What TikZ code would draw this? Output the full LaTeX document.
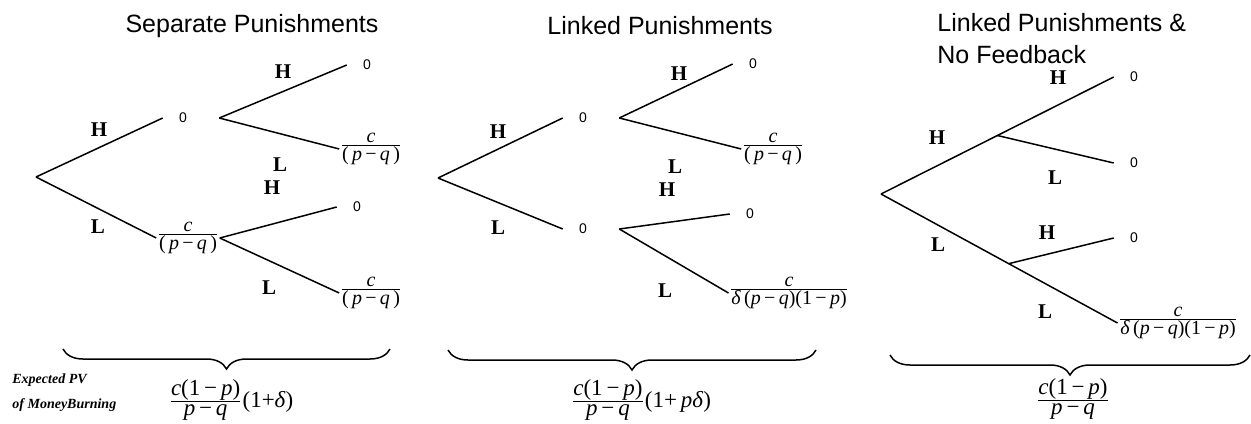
\documentclass[tikz,border=0pt]{standalone}
\usepackage{fontspec}
\setmainfont{Liberation Serif}
\setsansfont{Liberation Sans}
\usepackage{tikz}
\usetikzlibrary{calc,decorations.pathreplacing}
\newcommand{\fracPQ}{$\frac{\mbox{\textit{c}}}{\mbox{(\,\textit{p}\,−\,\textit{q}\,)}}$}
\newcommand{\fracLong}{$\frac{\mbox{\textit{c}}}{\mbox{\textit{δ}\,(\textit{p}\,−\,\textit{q})(1\,−\,\textit{p})}}$}
\newcommand{\fracSum}{$\frac{\mbox{\textit{c}(1\,−\,\textit{p})}}{\mbox{\textit{p}\,−\,\textit{q}}}$}

\begin{document}
\begin{tikzpicture}[
  x=0.5pt, y=-0.5pt,
  title/.style={font=\sffamily\fontsize{12.5}{16}\selectfont, align=left, inner sep=0pt},
  lbl/.style={font=\bfseries\fontsize{10.5}{12}\selectfont, inner sep=0pt},
  zero/.style={font=\sffamily\fontsize{7}{8}\selectfont, inner xsep=8pt, inner ysep=0pt},
  pay/.style={font=\fontsize{10}{11}\selectfont, inner sep=0pt},
  sum/.style={font=\fontsize{11.5}{13}\selectfont, inner sep=0pt},
  note/.style={font=\bfseries\itshape\fontsize{7}{12.5}\selectfont, align=left, inner sep=0pt},
  branch/.style={line width=0.75pt, draw=black},
  brc/.style={decorate, decoration={brace, mirror, amplitude=10pt}, line width=0.75pt}
]
  \useasboundingbox (0,0) rectangle (1251,423);

  % separate punishments
  \node[title] (ttl1) at (252,26) {Separate Punishments};
  \coordinate (r1) at (36,177);
  \node[zero] (a1) at (183,118) {0};
  \node[pay] (b1) at (188,238) {\fracPQ};
  \node[zero] (a1h) at (367,65) {0};
  \node[pay] (a1l) at (371,149) {\fracPQ};
  \node[zero] (b1h) at (357,207) {0};
  \node[pay] (b1l) at (371,293) {\fracPQ};

  \draw[branch] (r1) -- (a1.west);
  \draw[branch] (r1) -- (b1.west);
  \draw[branch] ([xshift=8pt]a1.east) -- (a1h.west);
  \draw[branch] ([xshift=8pt]a1.east) -- (a1l.west);
  \draw[branch] (b1.east) -- (b1h.west);
  \draw[branch] (b1.east) -- (b1l.west);

  \node[lbl] (h1) at (99,130) {H};
  \node[lbl] (l1) at (98,227) {L};
  \node[lbl] (h1a) at (283,72) {H};
  \node[lbl] (l1a) at (280,165) {L};
  \node[lbl] (h1b) at (272,188) {H};
  \node[lbl] (l1b) at (269,288) {L};

  \coordinate (bl1) at (63,349);
  \coordinate (br1) at (390,349);
  \draw[brc] (bl1) -- (br1);
  \node[sum] (s1) at (231,400) {\fracSum(1+\textit{δ})};
  \node[note, anchor=west] (pv) at (12,393) {Expected PV\\of MoneyBurning};

  % linked punishments
  \node[title] (ttl2) at (660,26) {Linked Punishments};
  \coordinate (r2) at (438,178);
  \node[zero] (a2) at (583,118) {0};
  \node[zero] (b2) at (583,229) {0};
  \node[zero] (a2h) at (753,64) {0};
  \node[pay] (a2l) at (773,149) {\fracPQ};
  \node[zero] (b2h) at (750,214) {0};
  \node[pay] (b2l) at (789,293) {\fracLong};

  \draw[branch] (r2) -- (a2.west);
  \draw[branch] (r2) -- (b2.west);
  \draw[branch] ([xshift=8pt]a2.east) -- (a2h.west);
  \draw[branch] ([xshift=8pt]a2.east) -- (a2l.west);
  \draw[branch] ([xshift=8pt]b2.east) -- (b2h.west);
  \draw[branch] ([xshift=8pt]b2.east) -- (b2l.west);

  \node[lbl] (h2) at (498,132) {H};
  \node[lbl] (l2) at (498,228) {L};
  \node[lbl] (h2a) at (679,74) {H};
  \node[lbl] (l2a) at (675,167) {L};
  \node[lbl] (h2b) at (667,190) {H};
  \node[lbl] (l2b) at (665,291) {L};

  \coordinate (bl2) at (448,350);
  \coordinate (br2) at (816,350);
  \draw[brc] (bl2) -- (br2);
  \node[sum] (s2) at (641,400) {\fracSum(1+\,\textit{pδ})};

  % linked punishments, no feedback
  \node[title, anchor=west] (ttl3) at (937,39) {Linked Punishments \&\\No Feedback};
  \coordinate (r3) at (881,194);
  \node[zero] (a3h) at (1134,77) {0};
  \node[zero] (a3l) at (1134,163) {0};
  \node[zero] (b3h) at (1134,238) {0};
  \node[pay] (b3l) at (1178,323) {\fracLong};
  \coordinate (m3) at ($(r3)!0.5!(a3h.west)$);
  \coordinate (n3) at ($(r3)!0.54!(b3l.west)$);

  \draw[branch] (r3) -- (a3h.west);
  \draw[branch] (m3) -- (a3l.west);
  \draw[branch] (r3) -- (b3l.west);
  \draw[branch] (n3) -- (b3h.west);

  \node[lbl] (h3) at (937,138) {H};
  \node[lbl] (l3) at (938,245) {L};
  \node[lbl] (h3a) at (1058,78) {H};
  \node[lbl] (l3a) at (1055,178) {L};
  \node[lbl] (h3b) at (1047,233) {H};
  \node[lbl] (l3b) at (1045,312) {L};

  \coordinate (bl3) at (890,355);
  \coordinate (br3) at (1250,355);
  \draw[brc] (bl3) -- (br3);
  \node[sum] (s3) at (1073,399) {\fracSum};
\end{tikzpicture}
\end{document}
